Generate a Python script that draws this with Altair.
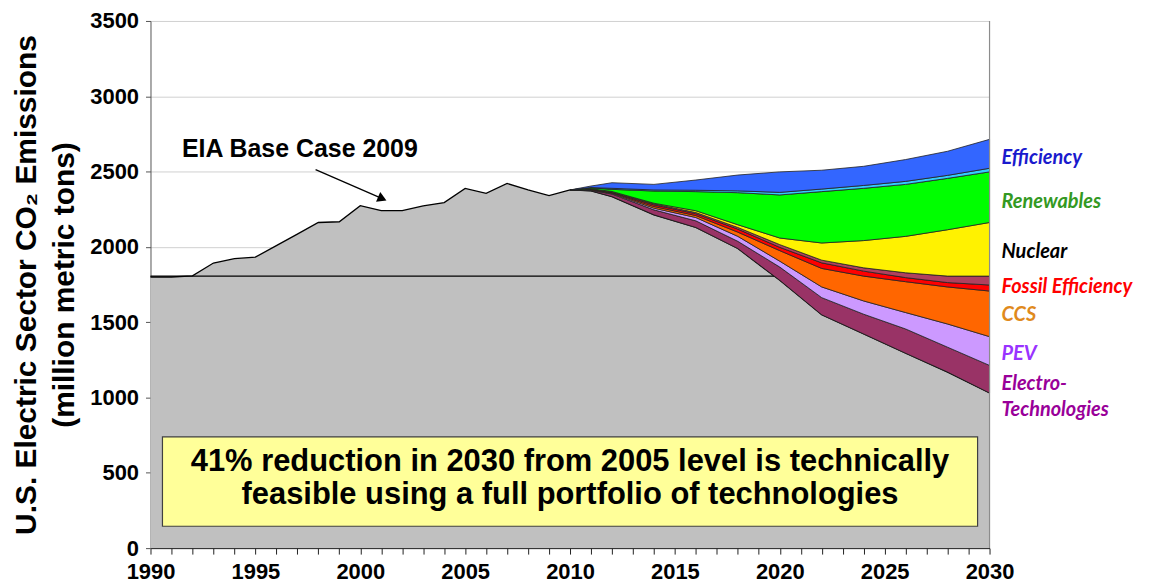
import altair as alt
import pandas as pd

# ---------------- data ----------------
hist_years = list(range(1990, 2010))
hist_emissions = [1800, 1800, 1808, 1893, 1922, 1932, 2008, 2085, 2162, 2167,
                  2274, 2241, 2241, 2272, 2294, 2388, 2356, 2421, 2378, 2340]

proj_years = [2010, 2011, 2012, 2014, 2016, 2018, 2020, 2022, 2024, 2026, 2028, 2030]
remaining = [2378, 2372, 2334, 2213, 2129, 1989, 1778, 1549, 1422, 1294, 1169, 1030]
electro_tech = [0, 4, 17, 33, 44, 48, 88, 114, 131, 161, 165, 183]
pev = [0, 2, 4, 11, 22, 33, 39, 71, 88, 109, 154, 191]
ccs = [0, 2, 4, 11, 13, 28, 70, 123, 165, 205, 246, 303]
fossil_eff = [0, 2, 3, 11, 12, 20, 22, 37, 33, 27, 29, 40]
fossil_band = [0, 2, 3, 7, 8, 11, 18, 18, 22, 32, 43, 59]
nuclear = [0, 2, 3, 4, 12, 18, 44, 114, 181, 242, 308, 356]
renewables = [0, 6, 14, 81, 127, 213, 286, 341, 347, 345, 341, 336]
eff_band = [0, 2, 7, 7, 9, 12, 17, 17, 19, 20, 20, 24]
efficiency = [0, 10, 37, 37, 68, 105, 136, 125, 127, 145, 160, 192]

series_names = ["Remaining", "Electro-Technologies", "PEV", "CCS", "Fossil Efficiency",
                "Fossil Efficiency (upper band)", "Nuclear", "Renewables",
                "Efficiency (thin band)", "Efficiency"]
series_colors = ["#c0c0c0", "#993366", "#cc99ff", "#ff6600", "#ff0000",
                 "#b0405e", "#fff200", "#00ff00", "#33ccff", "#3366ff"]

level_1990 = 1806

label_texts = ["Efficiency", "Renewables", "Nuclear", "Fossil Efficiency", "CCS",
               "PEV", "Electro-", "Technologies"]
label_values = [2591, 2301, 1964, 1734, 1549, 1292, 1088, 916]
label_colors = ["#1a1acd", "#339922", "#000000", "#ff0000", "#e08a1c",
                "#9933ff", "#990099", "#990099"]

box_lines = ["41% reduction in 2030 from 2005 level is technically",
             "feasible using a full portfolio of technologies"]
box_line_values = [514, 290]
box_extent = {"x0": 1990.57, "x1": 2029.43, "y0": 145, "y1": 738}

eia_label = "EIA Base Case 2009"
eia_pos = (1991.5, 2650)
arrow_start = (1997.87, 2513)
arrow_head = (2001.05, 2320)

x_tick_years = list(range(1990, 2031))
y_tick_values = list(range(0, 3501, 500))

# ---------------- tables ----------------
rows = []
for yr, v in zip(hist_years, hist_emissions):
    rows.append({"year": yr, "series": "Remaining", "ord": 0, "value": v})
proj_series = [remaining, electro_tech, pev, ccs, fossil_eff, fossil_band,
               nuclear, renewables, eff_band, efficiency]
for i, (name, vals) in enumerate(zip(series_names, proj_series)):
    for yr, v in zip(proj_years, vals):
        rows.append({"year": yr, "series": name, "ord": i, "value": v})
df = pd.DataFrame(rows)

FONT = "Liberation Sans"
xscale = alt.Scale(domain=[1990, 2030], nice=False, zero=False)
yscale = alt.Scale(domain=[0, 3500], nice=False)

x_axis = alt.Axis(values=x_tick_years, format="d",
                  labelExpr="datum.value % 5 == 0 ? datum.label : ''",
                  tickSize=6, labelPadding=7, grid=False, title="",
                  labelFont=FONT, labelFontWeight="bold", labelFontSize=22,
                  labelColor="black", domainColor="#222", tickColor="#222",
                  labelOverlap=False, labelFlush=False)
y_axis = alt.Axis(values=y_tick_values, format="d", tickSize=5, labelPadding=7,
                  grid=True, gridColor="#d0d0d0", gridWidth=1,
                  title=["U.S. Electric Sector CO\u2082 Emissions", "(million metric tons)"],
                  titleFont=FONT, titleFontWeight="bold", titleFontSize=30,
                  titleLineHeight=38, titlePadding=10, titleColor="black",
                  labelFont=FONT, labelFontWeight="bold", labelFontSize=22,
                  labelColor="black", domainColor="#555", tickColor="#555")


def X(field):
    return alt.X(field, scale=xscale, axis=x_axis)


def Y(field):
    return alt.Y(field, scale=yscale, axis=y_axis)


stacked = alt.Chart(df).transform_stack(
    stack="value", groupby=["year"], as_=["y0", "y1"],
    sort=[alt.SortField("ord", order="ascending")])

gray = stacked.transform_filter("datum.ord == 0").mark_area(
    color="#c0c0c0", opacity=1, line={"color": "black", "strokeWidth": 1.3}).encode(
    x=X("year:Q"), y=Y("y1:Q"), y2="y0:Q")

level_df = pd.DataFrame({"x0": [1990], "x1": [2030], "lvl": [level_1990]})
level_rule = alt.Chart(level_df).mark_rule(color="black", strokeWidth=1.3).encode(
    x=X("x0:Q"), x2="x1:Q", y=Y("lvl:Q"))

wedges = stacked.transform_filter("datum.ord > 0").mark_area(
    stroke="#222", strokeWidth=0.8, opacity=1).encode(
    x=X("year:Q"), y=Y("y1:Q"), y2="y0:Q",
    color=alt.Color("series:N", scale=alt.Scale(domain=series_names, range=series_colors),
                    legend=None))

border_df = pd.DataFrame({"x": [2030], "ya": [0], "yb": [3500]})
right_border = alt.Chart(border_df).mark_rule(color="#8c8c8c", strokeWidth=1.2).encode(
    x=X("x:Q"), y=Y("ya:Q"), y2="yb:Q")

box_df = pd.DataFrame([box_extent])
box = alt.Chart(box_df).mark_rect(fill="#ffff99", stroke="#404040", strokeWidth=1.2,
                                  opacity=1).encode(
    x=X("x0:Q"), x2="x1:Q", y=Y("y0:Q"), y2="y1:Q")

box_text_df = pd.DataFrame({"t": box_lines, "v": box_line_values,
                            "x": [(box_extent["x0"] + box_extent["x1"]) / 2] * 2})
box_text = alt.Chart(box_text_df).mark_text(
    font=FONT, fontWeight="bold", fontSize=31, align="center", baseline="alphabetic",
    color="black").encode(x=X("x:Q"), y=Y("v:Q"), text="t:N")

eia_df = pd.DataFrame({"x": [eia_pos[0]], "y": [eia_pos[1]], "t": [eia_label]})
eia_text = alt.Chart(eia_df).mark_text(
    font=FONT, fontWeight="bold", fontSize=25, align="left", baseline="middle",
    color="black").encode(x=X("x:Q"), y=Y("y:Q"), text="t:N")

arrow_df = pd.DataFrame({"x0": [arrow_start[0]], "y0": [arrow_start[1]],
                         "x1": [arrow_head[0]], "y1": [arrow_head[1]]})
arrow_line = alt.Chart(arrow_df).mark_rule(color="black", strokeWidth=1.3).encode(
    x=X("x0:Q"), x2="x1:Q", y=Y("y0:Q"), y2="y1:Q")
head_df = pd.DataFrame({"x": [arrow_head[0]], "y": [arrow_head[1]]})
arrow_tip = alt.Chart(head_df).mark_point(
    shape="triangle-up", filled=True, color="black", size=110, angle=113.5,
    opacity=1).encode(x=X("x:Q"), y=Y("y:Q"))

lab_df = pd.DataFrame({"t": label_texts, "v": label_values, "c": label_colors,
                       "x": [2030] * len(label_texts)})
labels = alt.Chart(lab_df).mark_text(
    font="Lato", fontWeight="bold", fontStyle="italic", fontSize=20,
    align="left", baseline="middle", dx=12).encode(
    x=X("x:Q"), y=Y("v:Q"), text="t:N", color=alt.Color("c:N", scale=None))

chart = alt.layer(gray, level_rule, wedges, right_border, box, box_text,
                  eia_text, arrow_line, arrow_tip, labels).properties(
    width=842, height=529,
    autosize=alt.AutoSizeParams(type="none"),
    padding={"left": 143, "top": 12, "right": 155, "bottom": 36},
    background="white",
).configure_view(stroke=None)

chart.save("out.html", embed_options={"renderer": "svg", "actions": False})
